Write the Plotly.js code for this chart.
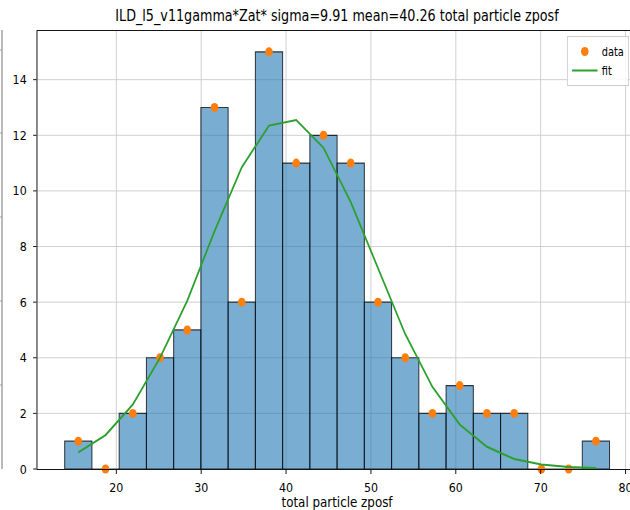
<!DOCTYPE html>
<html>
<head>
<meta charset="utf-8">
<script src="https://cdn.plot.ly/plotly-3.0.1.min.js"></script>
<style>
  html, body { margin: 0; padding: 0; overflow: hidden; background: #ffffff; width: 630px; height: 510px; }
  #chart { width: 760px; height: 510px; transform: scaleX(0.85); transform-origin: 0 0; }
</style>
</head>
<body>
<div id="chart"></div>
<script>
// ---- data ----
const binCenters = [15.52, 18.73, 21.94, 25.15, 28.36, 31.57, 34.78, 37.99, 41.20, 44.41,
                    47.62, 50.83, 54.04, 57.25, 60.46, 63.67, 66.88, 70.09, 73.30, 76.51];
const binWidth = 3.21;
const counts = [1, 0, 2, 4, 5, 13, 6, 15, 11, 12, 11, 6, 4, 2, 3, 2, 2, 0, 0, 1];
const fitValues = [0.6, 1.22, 2.32, 4.0, 6.05, 8.55, 10.85, 12.35, 12.55, 11.55,
                   9.6, 7.2, 4.85, 2.95, 1.6, 0.8, 0.36, 0.16, 0.07, 0.04];
const titleText = 'ILD_l5_v11gamma*Zat* sigma=9.91 mean=40.26 total particle zposf';
const xLabel = 'total particle zposf';
const xTicks = [20, 30, 40, 50, 60, 70, 80];
const yTicks = [0, 2, 4, 6, 8, 10, 12, 14];

const FONT = 'DejaVu Sans, Verdana, sans-serif';

const traces = [
  {
    type: 'bar',
    x: binCenters,
    y: counts,
    width: binWidth,
    marker: { color: 'rgba(31,119,180,0.6)', line: { color: 'rgba(0,0,0,0.75)', width: 1.2 } },
    showlegend: false,
    hoverinfo: 'skip'
  },
  {
    type: 'scatter',
    mode: 'markers',
    name: 'data',
    x: binCenters,
    y: counts,
    marker: { color: '#ff7f0e', size: 9 },
    cliponaxis: false
  },
  {
    type: 'scatter',
    mode: 'lines',
    name: 'fit',
    x: binCenters,
    y: fitValues,
    line: { color: '#2ca02c', width: 2 }
  }
];

// neighbour-panel edge visible at the far left of the reference
const s = 0.85;
const plotL = 44, plotR = 749;
const toPaperX = px => (px / s - plotL) / (plotR - plotL);
const toPaperY = py => (469 - py) / (469 - 31);
const shapes = [
  { type: 'line', xref: 'paper', yref: 'paper', x0: toPaperX(2), x1: toPaperX(2), y0: toPaperY(30), y1: toPaperY(469),
    line: { color: '#777777', width: 1.2 } }
];
[50, 133, 217, 301, 385].forEach(py => {
  shapes.push({ type: 'line', xref: 'paper', yref: 'paper', x0: toPaperX(0), x1: toPaperX(2), y0: toPaperY(py), y1: toPaperY(py),
    line: { color: '#999999', width: 1 } });
});

const layout = {
  width: 760,
  height: 510,
  margin: { l: plotL, r: 760 - plotR, t: 31, b: 41, pad: 0 },
  paper_bgcolor: '#ffffff',
  plot_bgcolor: '#ffffff',
  font: { family: FONT, size: 13, color: '#000000' },
  title: {
    text: titleText,
    font: { family: FONT, size: 15, color: '#000000' },
    x: 0.5, xref: 'paper', xanchor: 'center',
    y: 1 - 15.5 / 510, yref: 'container', yanchor: 'middle'
  },
  bargap: 0,
  showlegend: true,
  legend: {
    x: toPaperX(629), xanchor: 'right',
    y: toPaperY(36), yanchor: 'top',
    bgcolor: 'rgba(255,255,255,0.85)',
    bordercolor: '#cccccc', borderwidth: 1,
    font: { family: FONT, size: 11.5, color: '#000000' },
    traceorder: 'normal'
  },
  xaxis: {
    range: [10.70, 81.31],
    tickmode: 'array', tickvals: xTicks, ticktext: xTicks.map(String),
    ticks: 'outside', ticklen: 4, tickwidth: 1, tickcolor: '#000000',
    ticklabelstandoff: 2,
    showgrid: true, gridcolor: '#cccccc', gridwidth: 1,
    zeroline: false,
    showline: true, linecolor: '#000000', linewidth: 1, mirror: true,
    tickfont: { family: FONT, size: 13 },
    title: { text: xLabel, font: { family: FONT, size: 14 }, standoff: 10 }
  },
  yaxis: {
    range: [0, 15.75],
    tickmode: 'array', tickvals: yTicks, ticktext: yTicks.map(String),
    ticks: 'outside', ticklen: 4, tickwidth: 1, tickcolor: '#000000',
    ticklabelstandoff: 5,
    showgrid: true, gridcolor: '#cccccc', gridwidth: 1,
    zeroline: false,
    showline: true, linecolor: '#000000', linewidth: 1, mirror: true,
    tickfont: { family: FONT, size: 13 }
  },
  shapes: shapes
};

Plotly.newPlot('chart', traces, layout, { displayModeBar: false, staticPlot: true });
</script>
</body>
</html>
